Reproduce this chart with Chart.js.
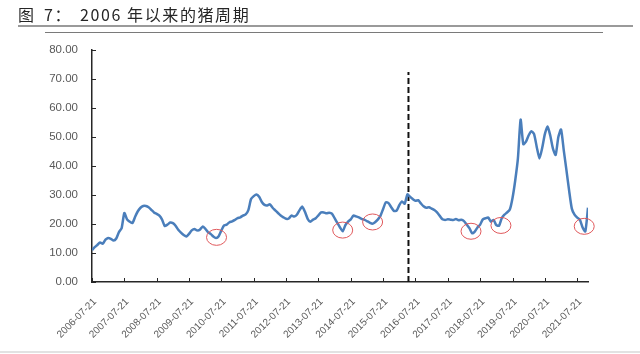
<!DOCTYPE html>
<html>
<head>
<meta charset="utf-8">
<script src="https://cdn.jsdelivr.net/npm/chart.js@4/dist/chart.umd.min.js"></script>
<style>
  body { margin: 0; background: #fff; }
  #wrap { position: relative; width: 640px; height: 354px; overflow: hidden; }
  #chart { position: absolute; left: 0; top: 0; }
  .title { position: absolute; top: 2px; font-family: "Noto Sans CJK SC", "Noto Sans", sans-serif; font-size: 16px; color: #262626; letter-spacing: 1.6px; white-space: nowrap; }
  .rule1 { position: absolute; left: 18px; top: 25px; width: 615px; height: 2px; background: #9a9a9a; }
  .rule2 { position: absolute; left: 45px; top: 32px; width: 558px; height: 1px; background: #7a7a7a; }
  .rule3 { position: absolute; left: 0; top: 351px; width: 640px; height: 2px; background: #e2e2e2; }
</style>
</head>
<body>
<div id="wrap">
  <canvas id="chart" width="640" height="354"></canvas>
  <div class="title" style="left:18px">图</div>
  <div class="title" style="left:44px">7：</div>
  <div class="title" style="left:80px">2006 年以来的猪周期</div>
  <div class="rule1"></div>
  <div class="rule2"></div>
  <div class="rule3"></div>
</div>
<script>
// 横轴刻度 (每12个月一个)
var tickLabels = ['2006-07-21', '2007-07-21', '2008-07-21', '2009-07-21', '2010-07-21', '2011-07-21',
    '2012-07-21', '2013-07-21', '2014-07-21', '2015-07-21', '2016-07-21', '2017-07-21',
    '2018-07-21', '2019-07-21', '2020-07-21', '2021-07-21'];

// 月度猪价 (元/公斤), 从 2006-07 开始
var priceValues = [
    11.0, 12.0, 12.8, 13.6, 13.2, 14.6, 15.2, 14.9, 14.3, 15.0, 17.2, 18.6,   // 2006-07 ~
    23.8, 21.6, 20.8, 20.3, 22.5, 24.4, 25.6, 26.2, 26.2, 25.8, 24.9, 24.0,   // 2007-07 ~
    23.5, 22.9, 21.5, 19.3, 19.8, 20.5, 20.3, 19.4, 18.0, 17.0, 16.2, 15.7,   // 2008-07 ~
    16.6, 17.8, 18.3, 17.8, 18.0, 19.1, 18.4, 17.2, 16.6, 15.7, 15.2, 15.8,   // 2009-07 ~
    17.8, 19.5, 19.8, 20.6, 20.9, 21.4, 22.0, 22.3, 22.9, 23.3, 24.8, 28.6,   // 2010-07 ~
    29.6, 30.2, 29.4, 27.6, 26.6, 26.4, 26.8, 25.6, 24.7, 23.8, 22.9, 22.3,   // 2011-07 ~
    21.8, 21.9, 22.9, 22.6, 23.2, 24.8, 26.0, 24.2, 21.8, 20.8, 21.5, 22.0,   // 2012-07 ~
    23.0, 24.0, 24.0, 23.7, 23.9, 23.6, 22.0, 20.4, 18.8, 17.5, 19.6, 20.8,   // 2013-07 ~
    21.6, 22.9, 22.6, 22.3, 21.8, 21.5, 21.0, 20.5, 20.1, 20.6, 21.5, 22.8,   // 2014-07 ~
    25.2, 27.5, 27.2, 25.8, 24.5, 24.6, 26.5, 27.8, 27.0, 30.2, 29.4, 28.6,   // 2015-07 ~
    28.0, 28.2, 27.1, 26.1, 25.6, 25.8, 25.3, 24.8, 24.0, 22.8, 21.6, 21.4,   // 2016-07 ~
    21.6, 21.5, 21.4, 21.7, 21.3, 21.5, 21.0, 19.8, 18.6, 16.8, 17.4, 18.8,   // 2017-07 ~
    19.8, 21.6, 22.0, 22.2, 20.8, 21.4, 19.6, 19.4, 22.0, 23.2, 24.0, 25.0,   // 2018-07 ~
    29.0, 35.0, 42.6, 56.0, 47.5, 48.4, 50.6, 52.0, 51.0, 46.5, 42.6, 46.2,   // 2019-07 ~
    51.0, 53.6, 50.5, 46.0, 43.8, 50.0, 52.6, 45.5, 38.6, 31.5, 25.3, 23.2,   // 2020-07 ~
    22.2, 21.4, 18.8, 17.4, 25.6                                              // 2021-07 ~
];

// 周期底部 (红圈), 月份序号 / 价格
var lowMonths = [46.2, 93.0, 104.1, 140.6, 151.7, 182.6];
var lowValues = [15.4, 17.9, 20.7, 17.5, 19.5, 19.2];

// 虚线位置
var markMonth = 117.4;
var markTop = 72.4;

var axisColor = '#262626';
var labelColor = '#595959';

// 红圈 + 朝内刻度
var extraDraw = {
    id: 'extraDraw',
    afterDatasetsDraw: function(chart) {
        var ctx = chart.ctx;
        var xs = chart.scales.x;
        var ys = chart.scales.y;
        ctx.save();
        ctx.strokeStyle = '#E0585B';
        ctx.lineWidth = 1;
        for (var i = 0; i < lowMonths.length; i++) {
            ctx.beginPath();
            ctx.ellipse(xs.getPixelForValue(lowMonths[i]), ys.getPixelForValue(lowValues[i]), 10, 8, 0, 0, Math.PI * 2);
            ctx.stroke();
        }
        ctx.strokeStyle = axisColor;
        ctx.lineWidth = 1;
        var area = chart.chartArea;
        xs.ticks.forEach(function(t) {
            var px = Math.round(xs.getPixelForValue(t.value)) + 0.5;
            ctx.beginPath();
            ctx.moveTo(px, area.bottom);
            ctx.lineTo(px, area.bottom - 4);
            ctx.stroke();
        });
        ys.ticks.forEach(function(t) {
            var py = Math.round(ys.getPixelForValue(t.value)) + 0.5;
            ctx.beginPath();
            ctx.moveTo(area.left, py);
            ctx.lineTo(area.left + 4, py);
            ctx.stroke();
        });
        ctx.restore();
    }
};

var ctx = document.getElementById('chart').getContext('2d');
var pigChart = new Chart(ctx, {
    type: 'line',
    data: {
        datasets: [
            {
                label: '猪价',
                data: priceValues.map(function(v, i) { return { x: i, y: v }; }),
                borderColor: '#4A7EBB',
                borderWidth: 2.5,
                pointRadius: 0,
                tension: 0.2,
                fill: false
            },
            {
                label: 'mark',
                data: [{ x: markMonth, y: 0 }, { x: markMonth, y: markTop }],
                borderColor: '#111',
                borderWidth: 2,
                borderDash: [6, 3],
                pointRadius: 0,
                fill: false
            }
        ]
    },
    options: {
        responsive: false,
        animation: false,
        layout: { padding: { top: 50, right: 52, left: 0, bottom: 0 } },
        plugins: {
            legend: { display: false },
            tooltip: { enabled: false }
        },
        scales: {
            x: {
                type: 'linear',
                min: 0,
                max: 184,
                afterBuildTicks: function(scale) {
                    scale.ticks = scale.ticks.filter(function(t) { return t.value % 12 === 0; });
                },
                afterFit: function(scale) { scale.height = 72; },
                grid: { display: false },
                border: { display: true, color: axisColor, width: 1.5 },
                ticks: {
                    stepSize: 12,
                    includeBounds: false,
                    autoSkip: false,
                    minRotation: 45,
                    maxRotation: 45,
                    padding: 6,
                    labelOffset: 3,
                    color: labelColor,
                    font: { family: 'Liberation Sans', size: 10 },
                    callback: function(v) { return tickLabels[v / 12]; }
                }
            },
            y: {
                min: 0,
                max: 80,
                afterFit: function(scale) { scale.width = 92; },
                grid: { display: false },
                border: { display: true, color: axisColor, width: 1.5 },
                ticks: {
                    stepSize: 10,
                    padding: 6,
                    color: labelColor,
                    font: { family: 'Liberation Sans', size: 11.5 },
                    callback: function(v) { return v.toFixed(2); }
                }
            }
        }
    },
    plugins: [extraDraw]
});
</script>
</body>
</html>
